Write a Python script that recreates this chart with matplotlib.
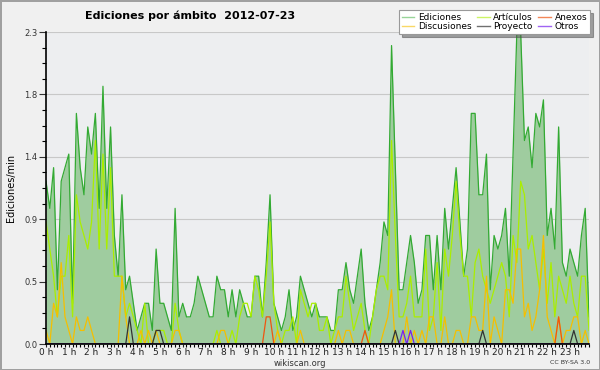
import numpy as np
import matplotlib
matplotlib.use('Agg')
import matplotlib.pyplot as plt
from matplotlib.lines import Line2D
from matplotlib.ticker import FixedLocator, MultipleLocator, FormatStrFormatter

# edits per minute, one value every 10 minutes (00:00 .. 23:50)
ediciones = [
    1.2, 1.0, 1.3, 0.4, 1.2, 1.3, 1.4, 0.3, 1.7, 1.3, 1.1, 1.6,
    1.4, 1.7, 1.0, 1.9, 1.0, 1.6, 0.8, 0.5, 1.1, 0.4, 0.5, 0.3,
    0.1, 0.2, 0.3, 0.3, 0.1, 0.7, 0.3, 0.3, 0.2, 0.1, 1.0, 0.2,
    0.3, 0.2, 0.2, 0.3, 0.5, 0.4, 0.3, 0.2, 0.2, 0.5, 0.4, 0.4,
    0.2, 0.4, 0.2, 0.4, 0.3, 0.2, 0.2, 0.5, 0.5, 0.2, 0.6, 1.1,
    0.3, 0.2, 0.1, 0.2, 0.4, 0.1, 0.2, 0.5, 0.4, 0.3, 0.2, 0.3,
    0.2, 0.2, 0.2, 0.1, 0.1, 0.4, 0.4, 0.6, 0.4, 0.3, 0.5, 0.7,
    0.3, 0.1, 0.2, 0.4, 0.6, 0.9, 0.8, 2.2, 1.3, 0.4, 0.4, 0.6,
    0.8, 0.6, 0.3, 0.4, 0.8, 0.8, 0.4, 0.8, 0.4, 1.0, 0.7, 1.0,
    1.3, 0.9, 0.5, 0.7, 1.7, 1.7, 1.1, 1.1, 1.4, 0.4, 0.8, 0.7,
    0.8, 1.0, 0.5, 1.4, 2.3, 2.3, 1.5, 1.6, 1.3, 1.7, 1.6, 1.8,
    0.8, 1.0, 0.7, 1.6, 0.6, 0.5, 0.7, 0.6, 0.5, 0.8, 1.0, 0.2,
]
articulos = [
    0.9, 0.7, 0.5, 0.2, 0.5, 0.5, 0.8, 0.2, 1.1, 0.9, 0.8, 0.7,
    0.9, 1.5, 0.7, 1.4, 0.7, 1.3, 0.5, 0.5, 0.5, 0.2, 0.3, 0.2,
    0.1, 0.0, 0.3, 0.0, 0.0, 0.1, 0.1, 0.1, 0.0, 0.0, 0.3, 0.1,
    0.0, 0.0, 0.0, 0.0, 0.0, 0.0, 0.0, 0.0, 0.0, 0.1, 0.0, 0.0,
    0.0, 0.1, 0.0, 0.2, 0.3, 0.3, 0.2, 0.5, 0.4, 0.2, 0.5, 0.9,
    0.3, 0.1, 0.0, 0.1, 0.1, 0.2, 0.0, 0.4, 0.3, 0.2, 0.3, 0.3,
    0.1, 0.1, 0.2, 0.0, 0.1, 0.2, 0.2, 0.5, 0.3, 0.1, 0.2, 0.3,
    0.1, 0.0, 0.2, 0.4, 0.5, 0.5, 0.4, 1.5, 0.8, 0.2, 0.2, 0.3,
    0.5, 0.2, 0.2, 0.2, 0.7, 0.1, 0.2, 0.6, 0.1, 0.7, 0.5, 0.8,
    1.2, 0.8, 0.5, 0.5, 0.2, 0.6, 0.7, 0.5, 0.4, 0.3, 0.4, 0.5,
    0.6, 0.5, 0.2, 0.8, 0.6, 1.2, 1.1, 0.7, 0.8, 0.6, 0.4, 0.7,
    0.3, 0.6, 0.2, 0.5, 0.4, 0.3, 0.5, 0.3, 0.2, 0.5, 0.5, 0.1,
]
discusiones = [
    0.1, 0.0, 0.3, 0.2, 0.6, 0.2, 0.1, 0.0, 0.2, 0.1, 0.1, 0.2,
    0.1, 0.0, 0.0, 0.0, 0.0, 0.0, 0.0, 0.0, 0.5, 0.2, 0.0, 0.0,
    0.0, 0.1, 0.0, 0.1, 0.0, 0.1, 0.0, 0.0, 0.0, 0.0, 0.1, 0.1,
    0.0, 0.0, 0.0, 0.0, 0.0, 0.0, 0.0, 0.0, 0.0, 0.0, 0.1, 0.1,
    0.0, 0.0, 0.0, 0.0, 0.0, 0.0, 0.0, 0.0, 0.0, 0.0, 0.0, 0.0,
    0.0, 0.1, 0.0, 0.0, 0.0, 0.0, 0.0, 0.1, 0.0, 0.0, 0.0, 0.0,
    0.0, 0.0, 0.0, 0.0, 0.0, 0.1, 0.0, 0.1, 0.1, 0.0, 0.0, 0.0,
    0.0, 0.0, 0.0, 0.0, 0.0, 0.1, 0.2, 0.4, 0.0, 0.0, 0.0, 0.2,
    0.0, 0.1, 0.0, 0.1, 0.0, 0.2, 0.2, 0.0, 0.0, 0.2, 0.0, 0.0,
    0.1, 0.1, 0.0, 0.0, 0.2, 0.2, 0.1, 0.1, 0.5, 0.0, 0.2, 0.1,
    0.0, 0.4, 0.4, 0.3, 0.7, 0.7, 0.2, 0.3, 0.1, 0.2, 0.4, 0.8,
    0.2, 0.1, 0.0, 0.2, 0.0, 0.1, 0.1, 0.2, 0.2, 0.0, 0.1, 0.0,
]
# sparse series: {slot index: value}
anexos = {58: 0.2, 59: 0.2, 84: 0.1, 135: 0.2}
proyecto = {22: 0.2, 29: 0.1, 30: 0.1, 92: 0.1, 115: 0.1, 139: 0.1}
otros = {94: 0.1, 96: 0.1}

hour_labels = [f'{h} h' for h in range(24)]

n = len(ediciones)
x = np.arange(n) / 6.0


def expand(sparse):
    vals = np.zeros(n)
    for k, v in sparse.items():
        vals[k] = v
    return vals


fig = plt.figure(figsize=(6, 3.7), dpi=100)
fig.patch.set_facecolor('#f0f0f0')
fig.patch.set_edgecolor('#a0a0a0')
fig.patch.set_linewidth(2)

ax = fig.add_axes([46 / 600, 1 - 344 / 370, 543 / 600, 312 / 370])
ax.set_facecolor('#edeef0')

ax.fill_between(x, ediciones, 0, color='#9fcc9f', lw=0, zorder=2)
ax.plot(x, ediciones, color='#33aa33', lw=0.9, zorder=3)
ax.plot(x, articulos, color='#aaee00', lw=0.9, zorder=4)
ax.plot(x, discusiones, color='#f5bf00', lw=0.9, zorder=4)
ax.plot(x, expand(anexos), color='#ee5511', lw=0.9, zorder=5)
ax.plot(x, expand(proyecto), color='#333333', lw=0.9, zorder=5)
ax.plot(x, expand(otros), color='#7722ee', lw=0.9, zorder=5)

ax.set_xlim(0, x[-1])
ax.set_ylim(0, 2.3)

yt = np.linspace(0, 2.3, 6)
ax.yaxis.set_major_locator(FixedLocator(yt))
ax.yaxis.set_minor_locator(FixedLocator(np.linspace(0, 2.3, 21)))
ax.yaxis.set_major_formatter(FormatStrFormatter('%.1f'))
ax.set_xticks(range(24))
ax.set_xticklabels(hour_labels)
ax.xaxis.set_minor_locator(MultipleLocator(1 / 6))

ax.tick_params(axis='y', which='major', length=5, width=0.8, labelsize=6, pad=1, colors='#333333')
ax.tick_params(axis='y', which='minor', length=3, width=0.8)
ax.tick_params(axis='x', which='major', length=2.5, width=0.8, labelsize=6.5, pad=0.5, colors='#222222')
ax.tick_params(axis='x', which='minor', length=2.5, width=0.8)

ax.grid(axis='y', color='#c8c8c8', lw=0.8, zorder=1)
ax.set_axisbelow(True)
for side in ['top', 'right']:
    ax.spines[side].set_visible(False)
for side in ['left', 'bottom']:
    ax.spines[side].set_linewidth(1.2)
    ax.spines[side].set_zorder(6)

ax.set_ylabel('Ediciones/min', fontsize=7, labelpad=6)

fig.text(85 / 600, 1 - 16 / 370, 'Ediciones por ámbito  2012-07-23',
         fontsize=8, fontweight='bold', ha='left', va='center')
fig.text(0.5, 1 - 363 / 370, 'wikiscan.org', fontsize=6, ha='center', va='center', color='#333333')
fig.text(590 / 600, 1 - 362 / 370, 'CC BY-SA 3.0', fontsize=4.5, ha='right', va='center', color='#333333')

handles = [
    Line2D([], [], color='#33aa33', alpha=0.5, lw=1),
    Line2D([], [], color='#f5bf00', alpha=0.6, lw=1),
    Line2D([], [], color='#aaee00', alpha=0.6, lw=1),
    Line2D([], [], color='#333333', alpha=0.7, lw=1),
    Line2D([], [], color='#ee5511', alpha=0.7, lw=1),
    Line2D([], [], color='#7722ee', alpha=0.7, lw=1),
]
labels = ['Ediciones', 'Discusiones', 'Artículos', 'Proyecto', 'Anexos', 'Otros']
leg = fig.legend(handles, labels, ncol=3, loc='upper right',
                 bbox_to_anchor=(590 / 600, 1 - 10 / 370), fontsize=6.5,
                 frameon=True, fancybox=False, shadow=True,
                 handlelength=1.4, handletextpad=0.4, columnspacing=0.6,
                 labelspacing=0.05, borderpad=0.3, borderaxespad=0)
leg.get_frame().set_edgecolor('#999999')
leg.get_frame().set_linewidth(0.8)

fig.savefig('out.png', dpi=100)
